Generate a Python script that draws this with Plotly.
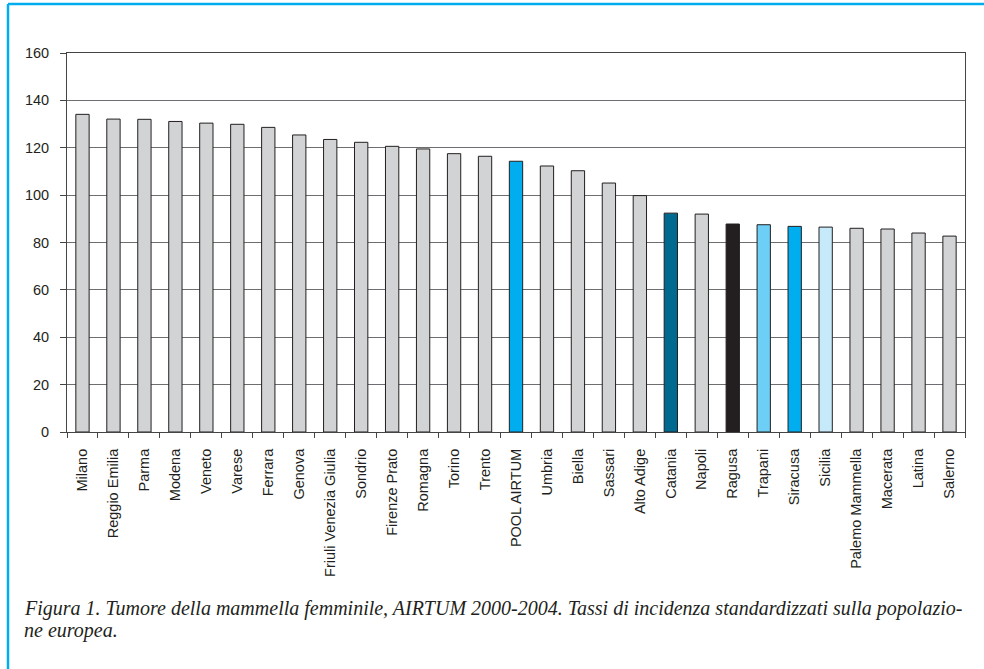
import plotly.graph_objects as go

categories = ["Milano", "Reggio Emilia", "Parma", "Modena", "Veneto", "Varese", "Ferrara",
              "Genova", "Friuli Venezia Giulia", "Sondrio", "Firenze Prato", "Romagna",
              "Torino", "Trento", "POOL AIRTUM", "Umbria", "Biella", "Sassari", "Alto Adige",
              "Catania", "Napoli", "Ragusa", "Trapani", "Siracusa", "Sicilia",
              "Palemo Mammella", "Macerata", "Latina", "Salerno"]
values = [134.1, 132.1, 132.0, 131.1, 130.4, 129.9, 128.6, 125.4, 123.5, 122.3, 120.6,
          119.5, 117.5, 116.4, 114.3, 112.3, 110.3, 105.1, 99.8, 92.4, 92.0, 87.8, 87.5,
          86.8, 86.5, 86.0, 85.7, 84.0, 82.7]
highlight_colors = {"POOL AIRTUM": "#00AEEF", "Catania": "#006990", "Ragusa": "#231F20",
                    "Trapani": "#6DCFF6", "Siracusa": "#00AEEF", "Sicilia": "#C7EAFB"}
default_color = "#D1D3D4"
colors = [highlight_colors.get(c, default_color) for c in categories]

y_ticks = [0, 20, 40, 60, 80, 100, 120, 140, 160]
caption_lines = ["Figura 1. Tumore della mammella femminile, AIRTUM 2000-2004. Tassi di incidenza "
                 "standardizzati sulla popolazio-",
                 "ne europea."]

fig = go.Figure(go.Bar(
    x=categories, y=values,
    marker=dict(color=colors, line=dict(color="#231F20", width=1)),
    width=0.43,
))

fig.update_layout(
    width=984, height=669,
    margin=dict(l=67, r=19, t=53, b=237),
    paper_bgcolor="white", plot_bgcolor="white",
    showlegend=False,
    font=dict(family="Liberation Sans, Arial, sans-serif", size=14.5, color="#231F20"),
    xaxis=dict(
        tickangle=-90, showgrid=False, showline=True, linecolor="#444444", linewidth=1,
        mirror=True, ticks="outside", ticklen=5, tickcolor="#444444", tickson="boundaries",
        tickfont=dict(size=14.5), ticklabelstandoff=10,
    ),
    yaxis=dict(
        range=[0, 160], tickvals=y_ticks, showgrid=True, gridcolor="#6D6E71", gridwidth=1,
        showline=True, linecolor="#444444", linewidth=1, mirror=True,
        ticks="outside", ticklen=6, tickcolor="#444444", zeroline=False,
        tickfont=dict(size=14.5), ticklabelstandoff=8,
    ),
)

# frame in pixel-based paper coordinates
W, H = 984 - 67 - 19, 669 - 53 - 237
def px(x):
    return (x - 67) / W
def py(y):
    return (669 - 237 - y) / H

fig.update_layout(shapes=[
    dict(type="line", xref="paper", yref="paper", x0=px(8), x1=px(990), y0=py(4), y1=py(4),
         line=dict(color="#00AEEF", width=2.5)),
    dict(type="line", xref="paper", yref="paper", x0=px(8), x1=px(8), y0=py(4), y1=py(680),
         line=dict(color="#00AEEF", width=2.5)),
])

for line, yc in zip(caption_lines, [608, 630]):
    fig.add_annotation(
        xref="paper", yref="paper", x=px(22), y=py(yc), xanchor="left", yanchor="middle",
        text=line, showarrow=False, align="left",
        font=dict(family="Liberation Serif, Times New Roman, serif", size=20,
                  color="#231F20", style="italic"),
    )

fig.write_html("out.html")
